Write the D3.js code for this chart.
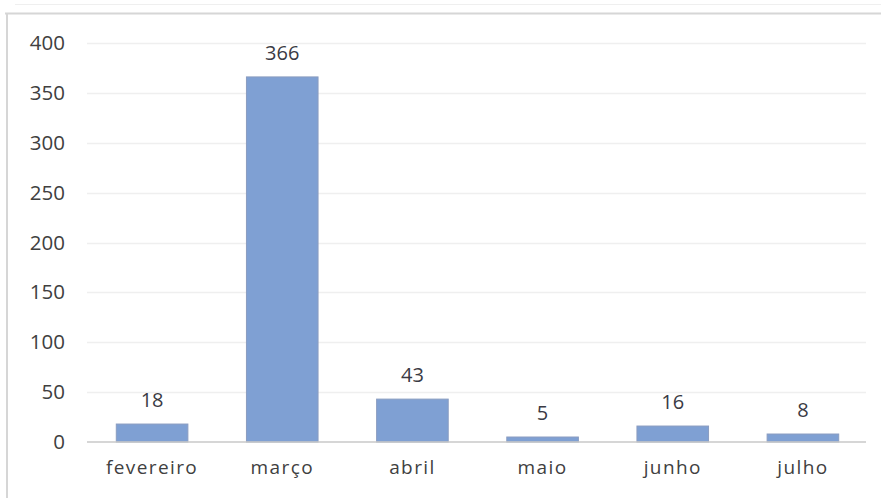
<!DOCTYPE html>
<html>
<head>
<meta charset="utf-8">
<script src="https://cdn.jsdelivr.net/npm/d3@7"></script>
<style>
  html, body { margin: 0; padding: 0; background: #ffffff; }
  svg { display: block; }
</style>
</head>
<body>
<svg id="chart" width="881" height="498"></svg>
<script>
const categories = ["fevereiro", "março", "abril", "maio", "junho", "julho"];
const values = [18, 366, 43, 5, 16, 8];
const yTicks = [0, 50, 100, 150, 200, 250, 300, 350, 400];

const svg = d3.select("#chart");
const W = 881, H = 498;
const margin = { left: 87, right: 13, top: 43, bottom: 56 };

// outer frame (scanned Excel chart border)
svg.append("line").attr("x1", 15).attr("x2", W).attr("y1", 4.5).attr("y2", 4.5)
  .attr("stroke", "#efefef").attr("stroke-width", 1);
svg.append("line").attr("x1", 5).attr("x2", W).attr("y1", 13.5).attr("y2", 13.5)
  .attr("stroke", "#d6d6d6").attr("stroke-width", 2);
svg.append("line").attr("x1", 7).attr("x2", 7).attr("y1", 13).attr("y2", H)
  .attr("stroke", "#d6d6d6").attr("stroke-width", 2);

const x = d3.scaleBand().domain(categories)
  .range([margin.left, W - margin.right]).paddingInner(0.45).paddingOuter(0.225);
const y = d3.scaleLinear().domain([0, 400]).range([H - margin.bottom, margin.top]);

// gridlines
const grid = svg.append("g").attr("class", "grid");
grid.selectAll("line").data(yTicks.filter(t => t > 0)).join("line")
  .attr("x1", margin.left).attr("x2", W - margin.right - 2)
  .attr("y1", d => Math.round(y(d)) + 0.5).attr("y2", d => Math.round(y(d)) + 0.5)
  .attr("stroke", "#efefef").attr("stroke-width", 1.5);

// y axis labels
const yAxis = d3.axisLeft(y).tickValues(yTicks).tickSize(0).tickPadding(0);
const gy = svg.append("g").attr("transform", `translate(${margin.left - 22},0)`).call(yAxis);
gy.select(".domain").remove();
gy.selectAll("text")
  .attr("font-family", "'Open Sans', sans-serif").attr("font-size", 20.5)
  .attr("fill", "#404040");

// bars
svg.append("g").selectAll("rect").data(values).join("rect")
  .attr("x", (d, i) => x(categories[i]))
  .attr("width", x.bandwidth())
  .attr("y", d => y(d))
  .attr("height", d => y(0) - y(d))
  .attr("fill", "#7fa0d3")
  .attr("stroke", "#8a9cc0").attr("stroke-width", 1);

// baseline axis
const xAxis = d3.axisBottom(x).tickSize(0).tickPadding(19);
const gx = svg.append("g").attr("transform", `translate(0,${y(0)})`).call(xAxis);
gx.select(".domain").attr("stroke", "#c9c9c9").attr("stroke-width", 1.5)
  .attr("d", `M${margin.left},0H${W - margin.right - 2}`);
gx.selectAll("text")
  .attr("font-family", "'Open Sans', sans-serif").attr("font-size", 19)
  .attr("letter-spacing", "1.4px")
  .attr("fill", "#404040");

// data labels
svg.append("g").selectAll("text").data(values).join("text")
  .attr("x", (d, i) => x(categories[i]) + x.bandwidth() / 2)
  .attr("y", d => y(d) - 17)
  .attr("text-anchor", "middle")
  .attr("font-family", "'Open Sans', sans-serif").attr("font-size", 20)
  .attr("fill", "#3a3a44")
  .text(d => d);
</script>
</body>
</html>
